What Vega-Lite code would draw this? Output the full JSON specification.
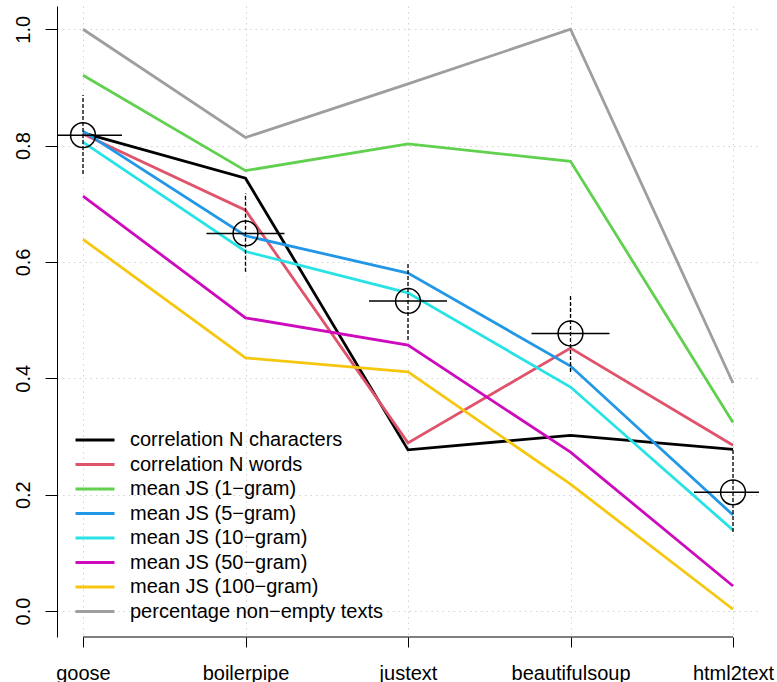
{
  "$schema": "https://vega.github.io/schema/vega-lite/v6.json",
  "width": 702,
  "height": 631,
  "autosize": {"type": "none"},
  "padding": {"left": 57, "top": 6, "right": 18, "bottom": 45},
  "background": "white",
  "config": {
    "view": {"stroke": null},
    "font": "Liberation Sans",
    "axis": {"labelFont": "Liberation Sans", "labelFontSize": 20, "labelColor": "black", "tickColor": "black", "domainColor": "black", "gridColor": "#d3d3d3", "gridDash": [1.5, 4], "gridWidth": 1}
  },
  "datasets": {
    "lines": [
      {"tool": "goose", "series": "correlation N characters", "value": 0.822},
      {"tool": "boilerpipe", "series": "correlation N characters", "value": 0.744},
      {"tool": "justext", "series": "correlation N characters", "value": 0.277},
      {"tool": "beautifulsoup", "series": "correlation N characters", "value": 0.302},
      {"tool": "html2text", "series": "correlation N characters", "value": 0.278},
      {"tool": "goose", "series": "correlation N words", "value": 0.82},
      {"tool": "boilerpipe", "series": "correlation N words", "value": 0.689},
      {"tool": "justext", "series": "correlation N words", "value": 0.289},
      {"tool": "beautifulsoup", "series": "correlation N words", "value": 0.452},
      {"tool": "html2text", "series": "correlation N words", "value": 0.285},
      {"tool": "goose", "series": "mean JS (1\u2212gram)", "value": 0.921},
      {"tool": "boilerpipe", "series": "mean JS (1\u2212gram)", "value": 0.757},
      {"tool": "justext", "series": "mean JS (1\u2212gram)", "value": 0.803},
      {"tool": "beautifulsoup", "series": "mean JS (1\u2212gram)", "value": 0.773},
      {"tool": "html2text", "series": "mean JS (1\u2212gram)", "value": 0.324},
      {"tool": "goose", "series": "mean JS (5\u2212gram)", "value": 0.825},
      {"tool": "boilerpipe", "series": "mean JS (5\u2212gram)", "value": 0.645},
      {"tool": "justext", "series": "mean JS (5\u2212gram)", "value": 0.581},
      {"tool": "beautifulsoup", "series": "mean JS (5\u2212gram)", "value": 0.421},
      {"tool": "html2text", "series": "mean JS (5\u2212gram)", "value": 0.165},
      {"tool": "goose", "series": "mean JS (10\u2212gram)", "value": 0.806},
      {"tool": "boilerpipe", "series": "mean JS (10\u2212gram)", "value": 0.618},
      {"tool": "justext", "series": "mean JS (10\u2212gram)", "value": 0.547},
      {"tool": "beautifulsoup", "series": "mean JS (10\u2212gram)", "value": 0.385},
      {"tool": "html2text", "series": "mean JS (10\u2212gram)", "value": 0.139},
      {"tool": "goose", "series": "mean JS (50\u2212gram)", "value": 0.713},
      {"tool": "boilerpipe", "series": "mean JS (50\u2212gram)", "value": 0.504},
      {"tool": "justext", "series": "mean JS (50\u2212gram)", "value": 0.457},
      {"tool": "beautifulsoup", "series": "mean JS (50\u2212gram)", "value": 0.273},
      {"tool": "html2text", "series": "mean JS (50\u2212gram)", "value": 0.043},
      {"tool": "goose", "series": "mean JS (100\u2212gram)", "value": 0.639},
      {"tool": "boilerpipe", "series": "mean JS (100\u2212gram)", "value": 0.435},
      {"tool": "justext", "series": "mean JS (100\u2212gram)", "value": 0.411},
      {"tool": "beautifulsoup", "series": "mean JS (100\u2212gram)", "value": 0.218},
      {"tool": "html2text", "series": "mean JS (100\u2212gram)", "value": 0.003},
      {"tool": "goose", "series": "percentage non\u2212empty texts", "value": 1.0},
      {"tool": "boilerpipe", "series": "percentage non\u2212empty texts", "value": 0.814},
      {"tool": "justext", "series": "percentage non\u2212empty texts", "value": 0.906},
      {"tool": "beautifulsoup", "series": "percentage non\u2212empty texts", "value": 1.0},
      {"tool": "html2text", "series": "percentage non\u2212empty texts", "value": 0.392}
    ],
    "errs": [
      {"tool": "goose", "est": 0.818, "lo": 0.751, "hi": 0.887},
      {"tool": "boilerpipe", "est": 0.649, "lo": 0.583, "hi": 0.718},
      {"tool": "justext", "est": 0.533, "lo": 0.466, "hi": 0.6},
      {"tool": "beautifulsoup", "est": 0.477, "lo": 0.411, "hi": 0.545},
      {"tool": "html2text", "est": 0.204, "lo": 0.136, "hi": 0.277}
    ],
    "xaxis": [{"from": "goose", "to": "html2text"}]
  },
  "layer": [
    {
      "data": {"name": "lines"},
      "mark": {"type": "line", "strokeWidth": 2.8},
      "encoding": {
        "x": {
          "field": "tool", "type": "nominal",
          "scale": {"type": "point", "padding": 0.16, "domain": ["goose", "boilerpipe", "justext", "beautifulsoup", "html2text"]},
          "axis": {"title": null, "domain": false, "tickSize": 10, "labelAngle": 0, "labelBaseline": "alphabetic", "labelPadding": 32, "grid": true}
        },
        "y": {
          "field": "value", "type": "quantitative",
          "scale": {"domain": [-0.0447, 1.04], "nice": false, "zero": false},
          "axis": {"title": null, "values": [0, 0.2, 0.4, 0.6, 0.8, 1.0], "format": ".1f", "tickSize": 12, "labelAngle": -90, "labelAlign": "center", "labelBaseline": "alphabetic", "labelPadding": 16, "grid": true}
        },
        "color": {
          "field": "series", "type": "nominal",
          "scale": {
            "domain": ["correlation N characters", "correlation N words", "mean JS (1\u2212gram)", "mean JS (5\u2212gram)", "mean JS (10\u2212gram)", "mean JS (50\u2212gram)", "mean JS (100\u2212gram)", "percentage non\u2212empty texts"],
            "range": ["#000000", "#DF536B", "#61D04F", "#2297E6", "#28E2E5", "#CD0BBC", "#F5C710", "#9E9E9E"]
          },
          "legend": {
            "title": null, "orient": "none", "legendX": 20, "legendY": 424, "padding": 0,
            "symbolType": "M-3,0H3", "symbolStrokeWidth": 3, "symbolSize": 169, "symbolFillColor": "transparent", "symbolOffset": 8,
            "labelFont": "Liberation Sans", "labelFontSize": 20, "labelColor": "black", "labelOffset": 25, "labelLimit": 0, "rowPadding": 4.5
          }
        }
      }
    },
    {
      "data": {"name": "xaxis"},
      "mark": {"type": "rule", "color": "black", "strokeWidth": 1},
      "encoding": {
        "x": {"field": "from", "type": "nominal"},
        "x2": {"field": "to"},
        "y": {"datum": -0.0447, "type": "quantitative"}
      }
    },
    {
      "data": {"name": "errs"},
      "mark": {"type": "rule", "color": "black", "strokeWidth": 1.3, "strokeDash": [4, 2]},
      "encoding": {
        "x": {"field": "tool", "type": "nominal"},
        "y": {"field": "lo", "type": "quantitative"},
        "y2": {"field": "hi"}
      }
    },
    {
      "data": {"name": "errs"},
      "mark": {"type": "tick", "orient": "horizontal", "color": "black", "size": 78, "thickness": 1.5, "clip": true, "opacity": 1},
      "encoding": {
        "x": {"field": "tool", "type": "nominal"},
        "y": {"field": "est", "type": "quantitative"}
      }
    },
    {
      "data": {"name": "errs"},
      "mark": {"type": "point", "shape": "circle", "filled": false, "size": 616, "stroke": "black", "strokeWidth": 1.5, "opacity": 1},
      "encoding": {
        "x": {"field": "tool", "type": "nominal"},
        "y": {"field": "est", "type": "quantitative"}
      }
    }
  ]
}
